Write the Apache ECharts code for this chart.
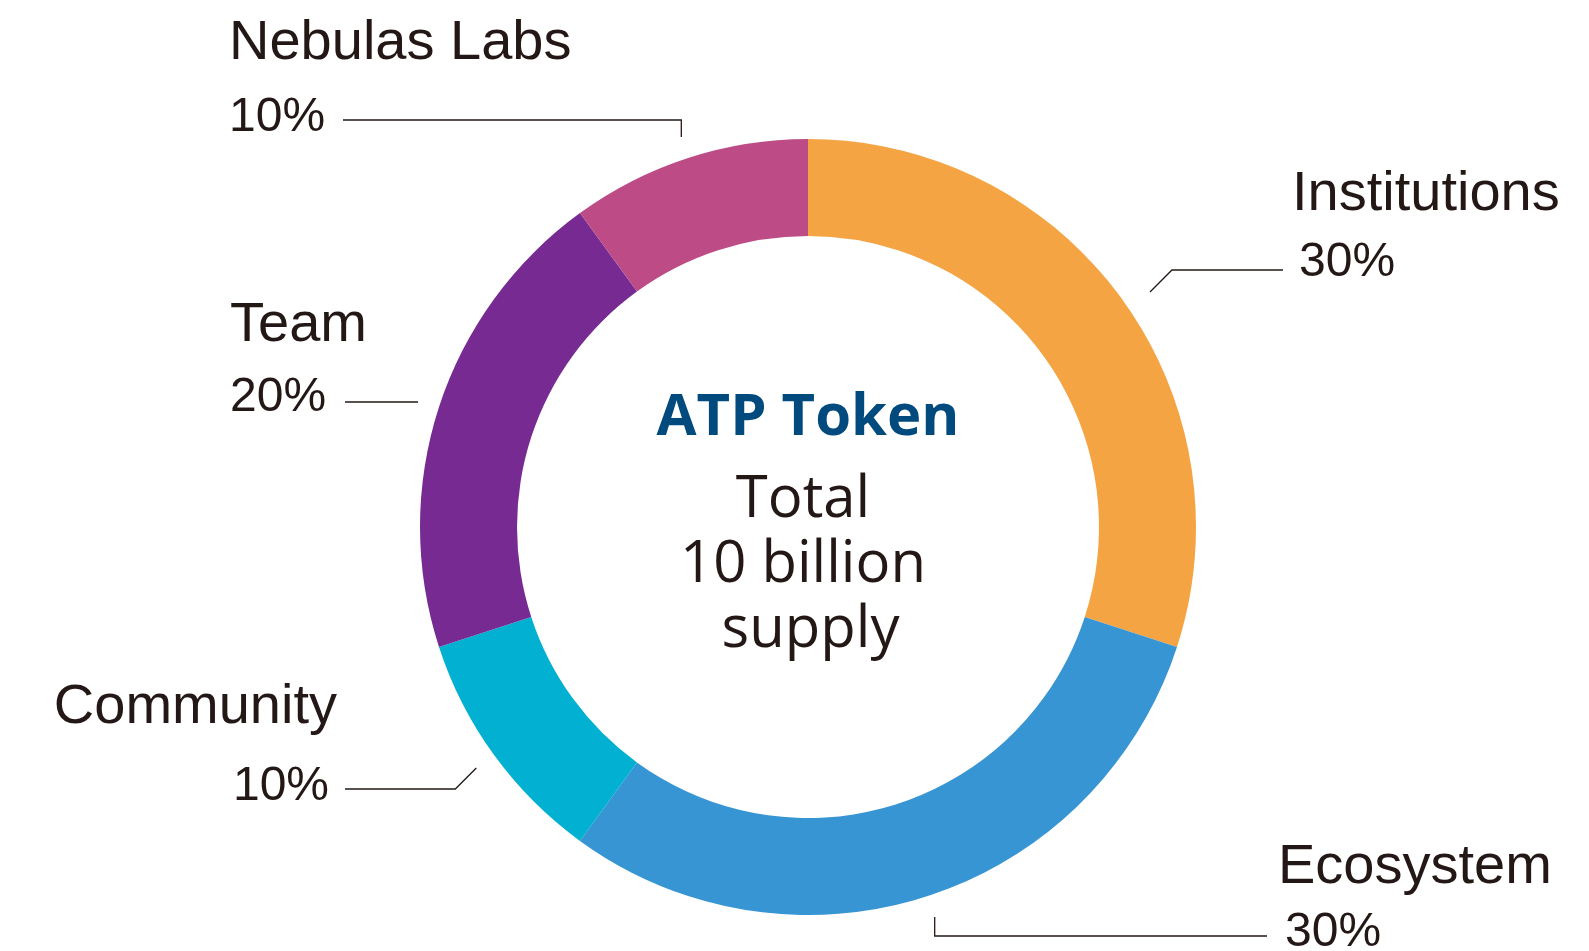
<!DOCTYPE html>
<html>
<head>
<meta charset="utf-8">
<title>ATP Token</title>
<script src="https://cdn.jsdelivr.net/npm/echarts@6/dist/echarts.min.js"></script>
<style>
  html, body { margin: 0; padding: 0; background: #fff; }
  #chart { width: 1589px; height: 951px; }
</style>
</head>
<body>
<div id="chart"></div>
<script>
  // slices, clockwise from 12 o'clock
  var categories = ['Institutions', 'Ecosystem', 'Community', 'Team', 'Nebulas Labs'];
  var shares = [30, 30, 10, 20, 10];
  var colors = ['#F4A443', '#3895D3', '#02B0D1', '#762A92', '#BC4B86'];

  var centerX = 808, centerY = 527;
  var innerR = 291, outerR = 388;

  // label placement: anchor x, baselines of the two lines, leader start (radius, angle nudge in deg), leader end x / y, elbow kind
  var labelLayouts = [
    { x: 1292, align: 'left',  nameBase: 212, pctBase: 278, lead: 415, nudge: 1.5, lineEnd: 1283, lineY: 270, elbow: 'diag' },
    { x: 1278, align: 'left',  nameBase: 885, pctBase: 948, lead: 410, nudge: 0,   lineEnd: 1267, lineY: 936, elbow: 'vert' },
    { x: 337,  align: 'right', nameBase: 725, pctBase: 802, lead: 410, nudge: 0,   lineEnd: 345,  lineY: 789, elbow: 'diag' },
    { x: 230,  align: 'left',  nameBase: 343, pctBase: 413, lead: 410, nudge: 0,   lineEnd: 345,  lineY: 402, elbow: 'none' },
    { x: 229,  align: 'left',  nameBase: 61,  pctBase: 133, lead: 410, nudge: 0,   lineEnd: 343,  lineY: 120, elbow: 'vert' }
  ];

  var nameSize = 56, pctSize = 48;
  var baseShift = 0.31; // distance from text middle to baseline, in em

  var total = shares.reduce(function (s, v) { return s + v; }, 0);
  var midAngles = [];
  var acc = 0;
  shares.forEach(function (v) {
    midAngles.push((acc + v / 2) / total * 2 * Math.PI);
    acc += v;
  });

  function leaderPoints(i) {
    var L = labelLayouts[i];
    var a = midAngles[i] + L.nudge * Math.PI / 180;
    var sx = centerX + L.lead * Math.sin(a);
    var sy = centerY - L.lead * Math.cos(a);
    var ly = L.lineY, ex = L.lineEnd;
    var mid;
    if (L.elbow === 'vert') {
      mid = [sx, ly];
    } else if (L.elbow === 'diag') {
      mid = [sx + (ex > sx ? 1 : -1) * Math.abs(ly - sy), ly];
    } else {
      sy = ly;
      mid = [sx, ly];
    }
    return [[sx, sy], mid, [ex, ly]];
  }

  // height of the first text line so that both baselines land where wanted
  function nameLineHeight(L) {
    var gap = L.pctBase - L.nameBase;
    return 2 * (gap - (pctSize / 2 + baseShift * pctSize - baseShift * nameSize));
  }

  var textColor = '#231815';
  var labelFont = '"Liberation Sans", Arial, Helvetica, sans-serif';

  var seriesData = categories.map(function (name, i) {
    var L = labelLayouts[i];
    var pctPad = L.align === 'right' ? [0, 8, 0, 0] : (i < 2 ? [0, 0, 0, 7] : 0);
    return {
      name: name,
      value: shares[i],
      itemStyle: { color: colors[i] },
      label: {
        align: L.align,
        rich: {
          n: { fontSize: nameSize, lineHeight: nameLineHeight(L), color: textColor, fontFamily: labelFont, align: L.align },
          p: { fontSize: pctSize, lineHeight: pctSize, color: textColor, fontFamily: labelFont, align: L.align, padding: pctPad }
        }
      }
    };
  });

  var chart = echarts.init(document.getElementById('chart'));
  chart.setOption({
    animation: false,
    backgroundColor: '#fff',
    series: [{
      type: 'pie',
      center: [centerX, centerY],
      radius: [innerR, outerR],
      startAngle: 90,
      clockwise: true,
      avoidLabelOverlap: false,
      silent: true,
      label: {
        show: true,
        position: 'outside',
        formatter: function (p) {
          return '{n|' + p.name + '}\n{p|' + p.value + '%}';
        }
      },
      labelLine: {
        show: true,
        length: 10,
        length2: 10,
        lineStyle: { color: textColor, width: 1.3 }
      },
      labelLayout: function (params) {
        var i = params.dataIndex, L = labelLayouts[i];
        var ln = nameLineHeight(L);
        return {
          x: L.x,
          y: L.nameBase - baseShift * nameSize - ln / 2,
          align: L.align,
          verticalAlign: 'top',
          labelLinePoints: leaderPoints(i)
        };
      },
      data: seriesData
    }],
    graphic: [{
      type: 'text',
      x: centerX,
      y: 418,
      style: {
        text: 'ATP Token',
        fontFamily: '"Open Sans", sans-serif',
        fontWeight: 'bold',
        fontSize: 58,
        fill: '#004A7E',
        align: 'center',
        verticalAlign: 'middle'
      }
    }, {
      type: 'text',
      x: 803,
      y: 468,
      style: {
        text: 'Total\n10 billion\n supply',
        fontFamily: '"Open Sans", sans-serif',
        fontSize: 58,
        lineHeight: 65,
        fill: textColor,
        align: 'center',
        verticalAlign: 'top'
      }
    }]
  });
</script>
</body>
</html>
